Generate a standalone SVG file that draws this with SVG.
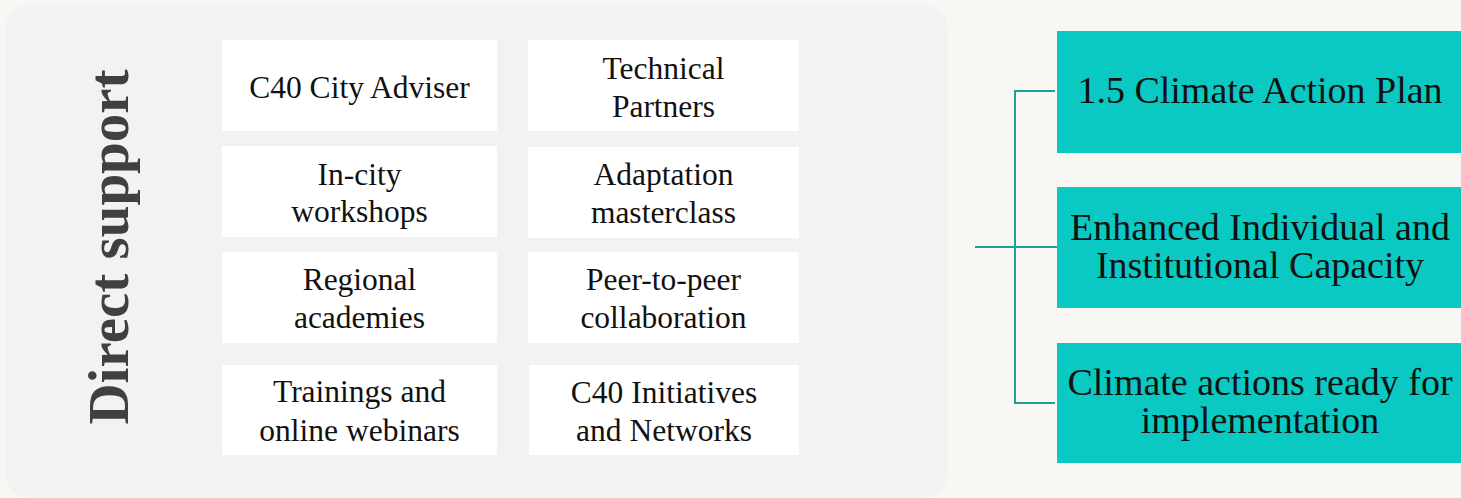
<svg xmlns="http://www.w3.org/2000/svg" width="1461" height="498" viewBox="0 0 1461 498">
<style>
.bg{fill:#f9f7f3}
.panel{fill:#f2f2f2}
.box{fill:#ffffff}
.out{fill:#09c9c2}
.t{font-family:"Liberation Serif",serif;font-size:31.5px;fill:#111;text-anchor:middle}
.t2{font-family:"Liberation Serif",serif;font-size:38px;fill:#111;text-anchor:middle}
.title{font-family:"Liberation Serif",serif;font-size:57px;font-weight:bold;fill:#404040;text-anchor:middle}
.con{fill:none;stroke:#14a39b;stroke-width:2}
</style>
<rect class="bg" x="0" y="0" width="1461" height="498"/>
<g id="panel">
<rect class="panel" x="5" y="4" width="943" height="494" rx="26"/>
<text class="title" transform="translate(128,247) rotate(-90)">Direct support</text>
</g>
<g id="n1"><rect class="box" x="222" y="40" width="275" height="91"/><text class="t" x="359.5" y="98">C40 City Adviser</text></g>
<g id="n2"><rect class="box" x="528" y="40" width="271" height="91"/><text class="t" x="663.5" y="79">Technical</text><text class="t" x="663.5" y="117">Partners</text></g>
<g id="n3"><rect class="box" x="222" y="146" width="275" height="91"/><text class="t" x="359.5" y="185">In-city</text><text class="t" x="359.5" y="222">workshops</text></g>
<g id="n4"><rect class="box" x="528" y="147" width="271" height="91"/><text class="t" x="663.5" y="185">Adaptation</text><text class="t" x="663.5" y="223">masterclass</text></g>
<g id="n5"><rect class="box" x="222" y="252" width="275" height="91"/><text class="t" x="359.5" y="290">Regional</text><text class="t" x="359.5" y="328">academies</text></g>
<g id="n6"><rect class="box" x="528" y="252" width="271" height="91"/><text class="t" x="663.5" y="290">Peer-to-peer</text><text class="t" x="663.5" y="328">collaboration</text></g>
<g id="n7"><rect class="box" x="222" y="365" width="275" height="90"/><text class="t" x="359.5" y="402">Trainings and</text><text class="t" x="359.5" y="441">online webinars</text></g>
<g id="n8"><rect class="box" x="529" y="365" width="270" height="90"/><text class="t" x="664" y="403">C40 Initiatives</text><text class="t" x="664" y="441">and Networks</text></g>
<g id="connectors">
<path class="con" d="M975,247 H1057 M1055,91 H1015 V403 H1055"/>
</g>
<g id="o1"><rect class="out" x="1057" y="31" width="410" height="122"/><text class="t2" x="1260" y="103">1.5 Climate Action Plan</text></g>
<g id="o2"><rect class="out" x="1057" y="187" width="410" height="121"/><text class="t2" x="1260" y="240">Enhanced Individual and</text><text class="t2" x="1260" y="278">Institutional Capacity</text></g>
<g id="o3"><rect class="out" x="1057" y="343" width="410" height="120"/><text class="t2" x="1260" y="395">Climate actions ready for</text><text class="t2" x="1260" y="433">implementation</text></g>
</svg>
